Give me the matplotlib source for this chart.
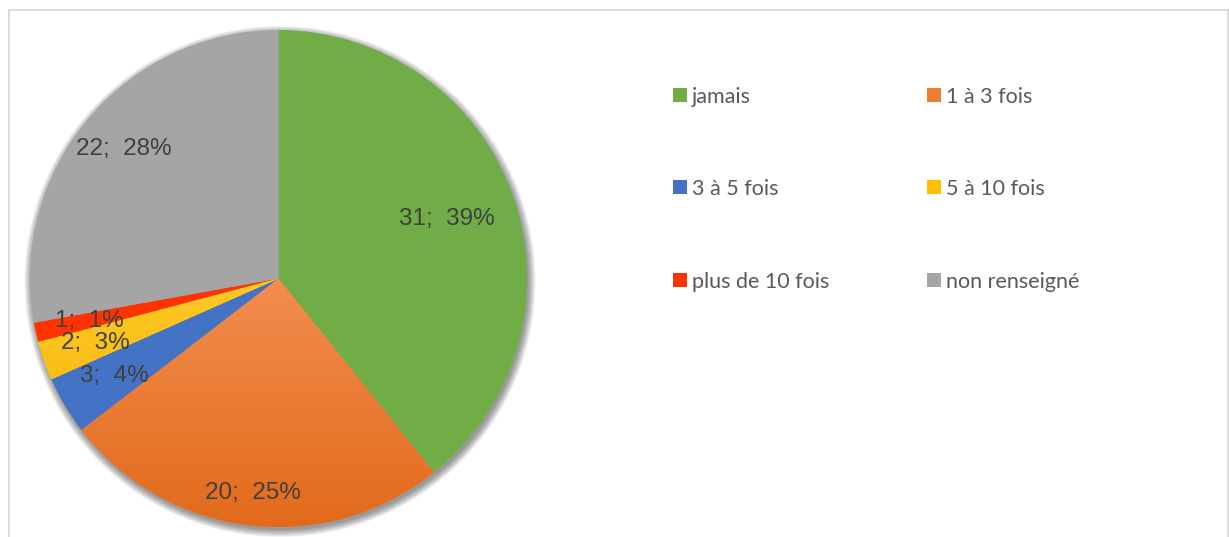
import numpy as np
import matplotlib
matplotlib.use("Agg")
import matplotlib.pyplot as plt
from matplotlib.patches import Circle, Rectangle
from matplotlib.lines import Line2D
from matplotlib.colors import LinearSegmentedColormap

# Survey answers
categories = ["jamais", "1 à 3 fois", "3 à 5 fois", "5 à 10 fois",
              "plus de 10 fois", "non renseigné"]
counts = [31, 20, 3, 2, 1, 22]
percents = [39, 25, 4, 3, 1, 28]

colors = ["#70AD47", "#ED7D31", "#4472C4", "#FFC000", "#FF3300", "#A5A5A5"]
# vertical shading (top colour, bottom colour) for some slices
shading = {1: ("#F38D4F", "#E26A1B"), 3: ("#FFC825", "#EEB200")}
# radial position of each value label, as a fraction of the radius
label_radius = [0.72, 0.87, 0.77, 0.78, 0.78, 0.81]

W, H = 1229, 537
fig = plt.figure(figsize=(W / 100, H / 100), dpi=100)

# chart frame
frame_col = "#D9D9D9"
fig.add_artist(Line2D([9 / W, 9 / W], [0, 1 - 10 / H], transform=fig.transFigure,
                      color=frame_col, lw=1.3))
fig.add_artist(Line2D([9 / W, 1227.5 / W], [1 - 10 / H, 1 - 10 / H],
                      transform=fig.transFigure, color=frame_col, lw=1.3))
fig.add_artist(Line2D([1227.5 / W, 1227.5 / W], [0, 1 - 10 / H],
                      transform=fig.transFigure, color=frame_col, lw=1.3))

# pie axes
cx, cy, r = 278.5, H - 278.5, 248.5
ax = fig.add_axes([(cx - r) / W, (cy - r) / H, 2 * r / W, 2 * r / H])
ax.set_xlim(-1, 1)
ax.set_ylim(-1, 1)
ax.set_aspect("equal")
ax.axis("off")

# soft drop shadow
for k in range(8):
    ax.add_patch(Circle((0.006, -0.012), 1.0 + 0.004 * k, facecolor="black",
                        edgecolor="none", alpha=0.06, zorder=0, clip_on=False))

wedges, _ = ax.pie(counts, colors=colors, startangle=90, counterclock=False,
                   radius=1.0, wedgeprops=dict(linewidth=0, zorder=1))
for w in wedges:
    w.set_zorder(1)
    w.set_clip_on(False)

for i, (top, bot) in shading.items():
    cmap = LinearSegmentedColormap.from_list(f"shade{i}", [bot, top])
    grad = np.linspace(0, 1, 256).reshape(-1, 1)
    w = wedges[i]
    im = ax.imshow(grad, cmap=cmap, origin="lower", aspect="auto",
                   extent=[-1, 1, -1, 0.0], zorder=1.5, interpolation="bilinear")
    im.set_clip_path(w)

ax.set_xlim(-1, 1)
ax.set_ylim(-1, 1)

# value labels
total = sum(counts)
start = 90.0
for i, (c, p) in enumerate(zip(counts, percents)):
    sweep = 360.0 * c / total
    mid = np.deg2rad(start - sweep / 2)
    start -= sweep
    rr = label_radius[i]
    ax.text(rr * np.cos(mid), rr * np.sin(mid), f"{c};  {p}%",
            ha="center", va="center", fontsize=17.5, color="#404040",
            family="Liberation Sans", zorder=5)

# legend, two columns
col_x = [673, 927]
row_y = [95, 187, 280]
sq = 14
for i, name in enumerate(categories):
    x = col_x[i % 2]
    y = row_y[i // 2]
    fig.add_artist(Rectangle((x / W, (H - y - sq / 2) / H), sq / W, sq / H,
                             transform=fig.transFigure, facecolor=colors[i],
                             edgecolor="none"))
    fig.text((x + sq + 5) / W, (H - y) / H, name, ha="left", va="center_baseline",
             fontsize=15.5, color="#595959", family="Lato")

fig.savefig("out.png", dpi=100)
